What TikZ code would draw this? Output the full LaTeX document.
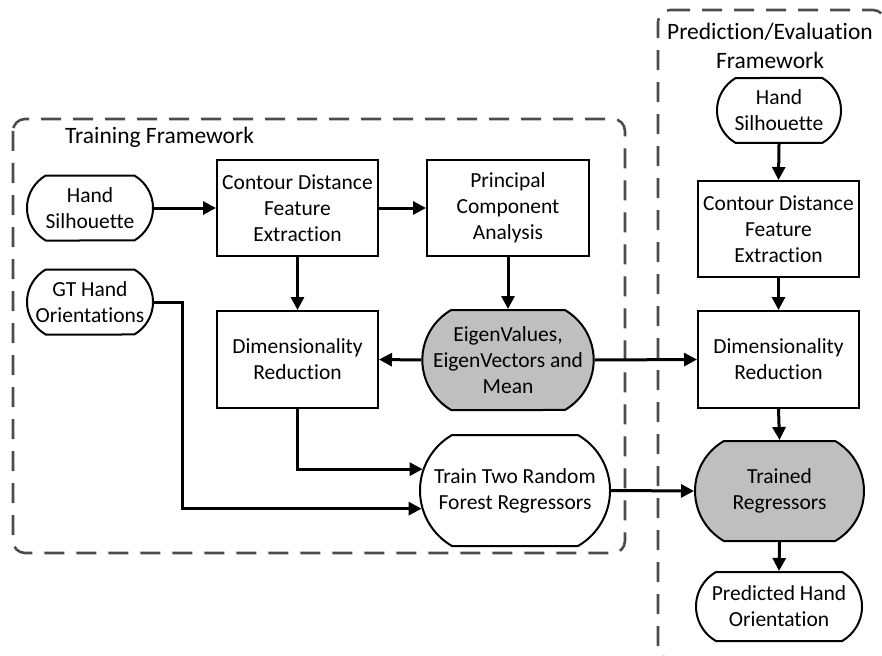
\documentclass[tikz,border=0pt]{standalone}
\usepackage{fontspec}
\setmainfont{Carlito}[Ligatures=CommonOff]
\usetikzlibrary{arrows.meta,shapes.misc}

\tikzset{
  boxnode/.style={draw=black, line width=2pt, rectangle, align=center, inner sep=0pt,
    font=\fontsize{21.5}{26}\selectfont},
  pill/.style={draw=black, line width=2pt, rounded rectangle, rounded rectangle arc length=120,
    align=center, inner sep=0pt, font=\fontsize{21.5}{26}\selectfont, fill=white},
  shaded/.style={pill, fill=gray!50},
  flow/.style={line width=3pt, -{Triangle[length=13pt,width=13pt]}},
  dashframe/.style={draw=black!70, line width=2.6pt, dash pattern=on 20pt off 12pt, rounded corners=12pt},
  title/.style={font=\fontsize{23.5}{29}\selectfont, align=center, inner sep=0pt}
}

\begin{document}
\begin{tikzpicture}[x=1pt,y=-1pt]
\useasboundingbox (0,0) rectangle (882,655);
\begin{scope}
\clip (0,0) rectangle (882,655);
% dashed framework borders
\draw[dashframe] (13,119) rectangle (625,553);
\draw[dashframe] (658,10) -- (885,10) -- (885,659) -- (658,659) -- cycle;
\end{scope}

\node[title, anchor=base west] (ttrain) at (65,143) {Training Framework};
\node[title] (tpred) at (770,46) {Prediction/Evaluation\\Framework};

% training framework
\node[pill, minimum width=126pt, minimum height=65pt] (hs1) at (90,208) {Hand\\Silhouette};
\node[pill, minimum width=126pt, minimum height=65pt] (gt) at (90,302) {GT Hand\\Orientations};
\node[boxnode, minimum width=161pt, minimum height=96pt] (cd1) at (297.5,208) {Contour Distance\\Feature\\Extraction};
\node[boxnode, minimum width=162pt, minimum height=96pt] (pca) at (508,208) {Principal\\Component\\Analysis};
\node[boxnode, minimum width=161pt, minimum height=97pt] (dr1) at (297.5,359.5) {Dimensionality\\Reduction};
\node[shaded, minimum width=168pt, minimum height=100pt] (eig) at (508,360) {EigenValues,\\EigenVectors and\\Mean};
\node[pill, minimum width=190pt, minimum height=111pt] (train) at (515,490.5) {Train Two Random\\Forest Regressors};

% prediction framework
\node[pill, minimum width=124pt, minimum height=65pt] (hs2) at (779,110.5) {Hand\\Silhouette};
\node[boxnode, minimum width=161pt, minimum height=96pt] (cd2) at (778.5,229) {Contour Distance\\Feature\\Extraction};
\node[boxnode, minimum width=161pt, minimum height=97pt] (dr2) at (778.5,359.5) {Dimensionality\\Reduction};
\node[shaded, minimum width=169pt, minimum height=100pt] (trr) at (779.5,491) {Trained\\Regressors};
\node[pill, minimum width=166pt, minimum height=69pt] (pho) at (779,606.5) {Predicted Hand\\Orientation};

% connectors
\draw[flow] (hs1.east) -- (cd1.west);
\draw[flow] (cd1.east) -- (pca.west);
\draw[flow] (cd1.south) -- (dr1.north);
\draw[flow] (pca.south) -- (eig.north);
\draw[flow] (eig.west) -- (dr1.east);
\draw[flow] (eig.east) -- (dr2.west);
\draw[flow] (dr1.south) |- (train.167);
\draw[flow] (gt.east) -- ++(28,0) |- (train.191);
\draw[flow] (train.east) -- (trr.west);
\draw[flow] (hs2.south) -- (cd2.north);
\draw[flow] (cd2.south) -- (dr2.north);
\draw[flow] (dr2.south) -- (trr.north);
\draw[flow] (trr.south) -- (pho.north);
\end{tikzpicture}
\end{document}
